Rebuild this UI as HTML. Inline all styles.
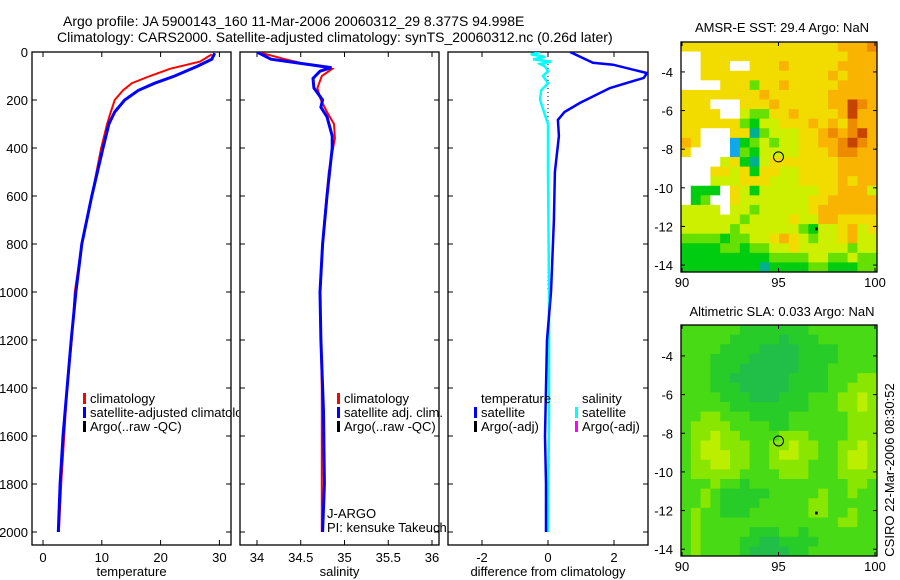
<!DOCTYPE html>
<html><head><meta charset="utf-8">
<style>
html,body{margin:0;padding:0;background:#fff;}
svg{display:block;font-family:"Liberation Sans",sans-serif;}
text{font-size:13px;fill:#000;}
.ttl{font-size:14px;}
</style></head>
<body>
<svg id="c" width="900" height="580" viewBox="0 0 900 580">
<defs>
<clipPath id="legClip"><rect x="0" y="380" width="239" height="60"/></clipPath>
<clipPath id="piClip"><rect x="300" y="500" width="147" height="40"/></clipPath>
</defs>
<text class="ttl" x="63" y="26">Argo profile: JA 5900143_160 11-Mar-2006 20060312_29 8.377S 94.998E</text>
<text class="ttl" x="57" y="42">Climatology: CARS2000. Satellite-adjusted climatology: synTS_20060312.nc (0.26d later)</text>
<text x="782" y="32" text-anchor="middle">AMSR-E SST: 29.4  Argo: NaN</text>
<text x="782" y="316" text-anchor="middle">Altimetric SLA: 0.033  Argo: NaN</text>
<text transform="translate(894,470) rotate(-90)" text-anchor="middle">CSIRO 22-Mar-2006 08:30:52</text>
</svg>
<script>
// ---- data ----
const depthTicks=[0,200,400,600,800,1000,1200,1400,1600,1800,2000];
const tempTicks=[0,10,20,30];
const salTicks=[34,34.5,35,35.5,36];
const diffTicks=[-2,0,2];
const tClimDepth=[10,40,70,100,130,160,200,260,300,400,600,800,1000,1200,1400,1600,1800,2000];
const tClimVal=[28.7,26.7,21.6,18.2,15.1,13.6,12.2,11.4,10.9,9.9,8.3,6.6,5.4,4.9,4.1,3.6,3.1,2.7];
const tSatDepth=[5,30,60,100,130,160,200,250,300,400,600,800,1000,1200,1400,1600,1800,2000];
const tSatVal=[29.2,28.7,26.2,22.4,19.0,16.2,13.9,12.2,11.2,10.2,8.3,6.6,5.6,4.8,4.1,3.4,2.9,2.6];
const sClimDepth=[0,30,50,70,100,150,200,250,300,360,400,500,700,1000,1400,2000];
const sClimVal=[34.01,34.32,34.55,34.86,34.74,34.69,34.73,34.80,34.88,34.89,34.87,34.82,34.77,34.72,34.74,34.74];
const sSatDepth=[0,30,50,65,80,110,150,200,230,270,350,400,600,800,1000,1200,1500,1800,2000];
const sSatVal=[34.0,34.16,34.55,34.85,34.72,34.64,34.65,34.75,34.73,34.80,34.86,34.86,34.80,34.75,34.72,34.73,34.76,34.77,34.75];
const dTDepth=[0,45,53,88,108,150,212,250,283,350,500,700,900,1000,1200,1400,1600,1800,2000];
const dTVal=[0.67,1.36,1.97,3.0,2.9,1.88,0.97,0.5,0.3,0.33,0.21,0.18,0.12,0.09,-0.03,-0.06,-0.09,-0.06,-0.06];
const dSDepth=[0,10,20,30,40,50,60,80,100,130,160,200,250,300,500,1000,1500,2000];
const dSVal=[-0.24,-0.52,-0.09,-0.45,0.09,-0.24,-0.09,0,-0.15,0,-0.21,-0.24,-0.12,0,0,0.03,0.03,0];
const mapXTicks=[90,95,100];
const mapYTicks=[-4,-6,-8,-10,-12,-14];
const sstPalette={Y:'#f2dc00',O:'#f8b400',D:'#ee8a00',R:'#c44400',L:'#cdf000',G:'#66e000',g:'#00cc10',T:'#00b090',B:'#10a8e8',W:'#ffffff'};
const sstRows=[
"YYYYYYYYYYYYYYYYOOOD","WWYYYYYYYYYYYYYYYOOO","WWYYYWWYYYOYYYYYOOOO","WWYYYYYYYYYYYYYOYOOO",
"WWWWYYYGYYOYYYYYOOOO","YYYYYYYYOYYYYYYOOOOO","YYYWWWYYYOYYYYYOORDO","YYYYWWLGGYYOYYYYOROO",
"YYYYYYGgLLYYYOYOYDOO","YYWWWYYTGLLLYYODODRO","OYWWWBgGLGLLYYOODRDO","YWWWWBGgLLLLYYYODDOO",
"WWWWLYgTLYYYYYYYOOOO","WWWYYLYgYYLLYYYYOOOO","WWWLLLYYYLLLYYYYOYOO","WgggWYLgLLLLLLYYOOOL",
"WgGWWYLLLLLLLYYOOOOO","LLLLWLLGLLLLLYOOOOOO","LLLLLLGLLLLYLLOOYYYY","LLLLLGLLLLLLGgLLYOLY",
"GGGGgGGLLYOYLGLLYOLL","ggggGGgGGLLYLLLLLGLL","gggggggggGGGGLLGGLGG","ggggggggTggggGGgggGG"];
const slaPalette={g:'#28cc28',G:'#48da14',L:'#88e600',Y:'#bcee00',T:'#22bf48'};
const slaRows=[
"GGGGGGgggggggGGGGGGG","GGGGGgggggTgggGGGGGG","GGGGggggTTTTggggGGGG","GGGggggTTTTTggggGGGG",
"GGGgggTTTTTTgggGGGGG","GGGggTTTTTTggggGGGLL","GGGgggTTTTTggggGGLLL","GGGGgggTTTgggGGGLLYL",
"GGGGGggggggggGGGLLYL","GGLLGGGggggGGGGGGLLL","GLLLLGGGGggGGGGGGLLL","GLLYLLGGGGLLLGGGGLLL",
"GLYYLLLGGLLYLLGGLLYL","GLYYYLLGGLYYLLGGLYYL","GLLYYLLGGLLLLGGGLYYL","GLLLLLGGGGLLLGGGLLLL",
"GGGLGGgGGGGGGGGGGLLG","GGLGgggggGGGGGLGGLGG","GGLGggggGGGGGLLGGGGG","GLGGgggGGGGGGLLGGLGG",
"GLGGGGGGGGGGGGGGLLGG","GLGGGGGgggGGgGGGGGGG","GLGGGGggTTggggGGGGGG","GLGGGGgTTTTggGGGGGGG"];
const argoLon=95.0, argoLat=-8.4;

// ---- drawing ----
const svg=document.getElementById('c');
const NS='http://www.w3.org/2000/svg';
function mk(tag,attrs,parent){const e=document.createElementNS(NS,tag);for(const k in attrs)e.setAttribute(k,attrs[k]);(parent||svg).appendChild(e);return e;}
const yD=d=>52+0.24*d;
const PT={l:32,r:231,x:T=>43+5.88*T};
const PS={l:240,r:439,x:S=>257+87.5*(S-34)};
const PD={l:448,r:648,x:v=>548+33*v};
const TOP=52,BOT=545;

function clipFor(p,id){const cp=mk('clipPath',{id:id});mk('rect',{x:p.l,y:TOP,width:p.r-p.l,height:BOT-TOP},cp);return 'url(#'+id+')';}
function line(p,depths,vals,color,w,name,clip){
  const pts=depths.map((d,i)=>p.x(vals[i]).toFixed(1)+','+yD(d).toFixed(1)).join(' ');
  const e=mk('polyline',{points:pts,fill:'none',stroke:color,'stroke-width':w,'clip-path':clip});
  
  
  return e;
}
function panel(p,xt,xlabel,name,showY){
  const g=mk('g',{});
  
  
  mk('rect',{x:p.l,y:TOP,width:p.r-p.l,height:BOT-TOP,fill:'none',stroke:'#000','stroke-width':1.3},g);
  depthTicks.forEach(d=>{
    mk('line',{x1:p.l,x2:p.l+5,y1:yD(d),y2:yD(d),stroke:'#000'},g);
    mk('line',{x1:p.r,x2:p.r-5,y1:yD(d),y2:yD(d),stroke:'#000'},g);
    if(showY){const t=mk('text',{x:28,y:yD(d)+5,'text-anchor':'end'},g);t.textContent=d;
      
      }
  });
  xt.forEach(v=>{
    const x=p.x(v);
    mk('line',{x1:x,x2:x,y1:BOT,y2:BOT-5,stroke:'#000'},g);
    mk('line',{x1:x,x2:x,y1:TOP,y2:TOP+5,stroke:'#000'},g);
    const t=mk('text',{x:x,y:562,'text-anchor':'middle'},g);t.textContent=v;
    
    
  });
  const t=mk('text',{x:(p.l+p.r)/2,y:576,'text-anchor':'middle'},g);t.textContent=xlabel;
  
  
}
panel(PT,tempTicks,'temperature','temperature-panel',true);
panel(PS,salTicks,'salinity','salinity-panel',false);
panel(PD,diffTicks,'difference from climatology','difference-panel',false);
const c1=clipFor(PT,'cT'),c2=clipFor(PS,'cS'),c3=clipFor(PD,'cD');
line(PT,tClimDepth,tClimVal,'#ff0000',2,'temp-climatology-line',c1);
line(PT,tSatDepth,tSatVal,'#0000ff',3,'temp-satellite-line',c1);
line(PS,sClimDepth,sClimVal,'#ff0000',2,'sal-climatology-line',c2);
line(PS,sSatDepth,sSatVal,'#0000ff',3,'sal-satellite-line',c2);
mk('line',{x1:PD.x(0),x2:PD.x(0),y1:TOP,y2:yD(1000),stroke:'#000','stroke-dasharray':'1,3'});
line(PD,dSDepth,dSVal,'#00ffff',2.5,'sal-diff-satellite-line',c3);
line(PD,dTDepth,dTVal,'#0000ff',2.5,'temp-diff-satellite-line',c3);

function legend(x,y,items,name,clip){
  const g=mk('g',clip?{'clip-path':clip}:{});
  
  
  items.forEach((it,i)=>{
    const yy=y+i*14;
    if(it[1])mk('rect',{x:x,y:yy-10,width:3,height:11,fill:it[1]},g);
    const t=mk('text',{x:x+7,y:yy},g);t.textContent=it[0];
    
    
  });
}
legend(83,403,[['climatology','#ff0000'],['satellite-adjusted climatology','#0000ff'],['Argo(..raw -QC)','#000']],'temp-legend','url(#legClip)');
legend(337,403,[['climatology','#ff0000'],['satellite adj. clim.','#0000ff'],['Argo(..raw -QC)','#000']],'sal-legend');
legend(474,403,[['temperature',null],['satellite','#0000ff'],['Argo(-adj)','#000']],'diff-temp-legend');
legend(575,403,[['salinity',null],['satellite','#00ffff'],['Argo(-adj)','#ff00ff']],'diff-sal-legend');
const pg=mk('g',{'clip-path':'url(#piClip)'});
const j1=mk('text',{x:327,y:518},pg);j1.textContent='J-ARGO';


const j2=mk('text',{x:327,y:532},pg);j2.textContent='PI: kensuke Takeuchi';



function map(top,bot,latTop,latBot,rows,pal,name){
  const L=681,R=877;
  const lx=lon=>682+19.3*(lon-90);
  const ly=lat=>top+(bot-top)*(latTop-lat)/(latTop-latBot);
  const g=mk('g',{});
  
  
  const nr=rows.length,nc=rows[0].length,cw=(R-L)/nc,ch=(bot-top)/nr;
  rows.forEach((r,i)=>{for(let j=0;j<nc;j++){
    mk('rect',{x:(L+j*cw).toFixed(2),y:(top+i*ch).toFixed(2),width:(cw+0.4).toFixed(2),height:(ch+0.4).toFixed(2),fill:pal[r[j]]},g);}});
  mk('rect',{x:L,y:top,width:R-L,height:bot-top,fill:'none',stroke:'#000','stroke-width':1.3},g);
  mapXTicks.forEach(v=>{const x=lx(v);
    mk('line',{x1:x,x2:x,y1:bot,y2:bot-4,stroke:'#000'},g);
    mk('line',{x1:x,x2:x,y1:top,y2:top+4,stroke:'#000'},g);
    const t=mk('text',{x:x,y:bot+15,'text-anchor':'middle'},g);t.textContent=v;
    
    });
  mapYTicks.forEach(v=>{const y=ly(v);
    mk('line',{x1:L,x2:L+4,y1:y,y2:y,stroke:'#000'},g);
    mk('line',{x1:R,x2:R-4,y1:y,y2:y,stroke:'#000'},g);
    const t=mk('text',{x:673,y:y+5,'text-anchor':'end'},g);t.textContent=v;
    
    });
  const c=mk('circle',{cx:lx(argoLon),cy:ly(argoLat),r:5,fill:'none',stroke:'#000'},g);
  
  
  mk('rect',{x:lx(96.9),y:ly(-12.05),width:2.5,height:3,fill:'#000'},g);
}
map(42,272,-2.45,-14.36,sstRows,sstPalette,'sst-map');
map(325,556,-2.4,-14.35,slaRows,slaPalette,'sla-map');
</script>
</body></html>
